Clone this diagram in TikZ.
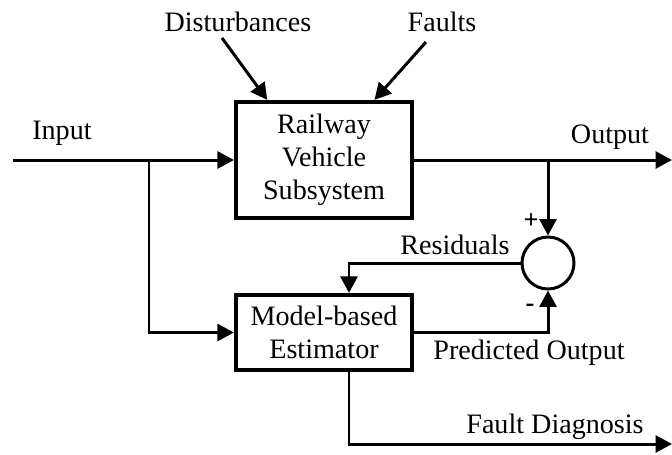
\documentclass[tikz,border=0pt]{standalone}
\usepackage{fontspec}
\setmainfont{Liberation Serif}
\usetikzlibrary{arrows.meta,calc,positioning}

\begin{document}
\begin{tikzpicture}[x=0.02cm,y=-0.02cm,
    every node/.style={font=\fontsize{16}{18.8}\selectfont},
    block/.style={draw,line width=2.4pt,align=center,inner sep=0pt,
                  minimum width=3.52cm},
    sig/.style={line width=1.7pt,-{Triangle[length=0.33cm,width=0.34cm]}},
    sign/.style={font=\fontsize{15}{15}\selectfont\bfseries}]
%
  \useasboundingbox (0,0) rectangle (672,454);
%
  \node [block,minimum height=2.32cm] (rvs) at (324,160)
        {Railway\\Vehicle\\Subsystem} ;
  \node [block,minimum height=1.5cm] (mbe) at (324,332.5)
        {Model-based\\Estimator} ;
  \node [draw,circle,line width=1.7pt,minimum size=1.04cm,inner sep=0pt]
        (sum) at (548,263) {} ;
%
  \node (dist) at (238,22)  {Disturbances} ;
  \node (flt)  at (442,22)  {Faults} ;
  \node (inp)  at (62,133)  {Input} ;
  \node (outp) at (610,137) {Output} ;
  \node (res)  at (455,245) {Residuals} ;
  \node (pred) at (529,353) {Predicted Output} ;
  \node (diag) at (555,427) {Fault Diagnosis} ;
  \node [sign] (plus)  at (531,221) {+} ;
  \node [sign] (minus) at (530,308) {-} ;
%
  \coordinate (dtail) at (222,38) ;
  \coordinate (ftail) at (426,42) ;
  \coordinate (in)    at (13,160) ;
  \coordinate (isplit) at (149,160) ;
  \coordinate (out)   at (672,160) ;
  \coordinate (osplit) at (548,160) ;
  \coordinate (fdout) at (672,444) ;
%
  \draw [sig] (dtail) -- ($(rvs.north west)!.185!(rvs.north east)$) ;
  \draw [sig] (ftail) -- ($(rvs.north west)!.78!(rvs.north east)$) ;
%
  \draw [sig] (in) -- (rvs.west) ;
  \draw [sig] (isplit) |- (mbe.west) ;
  \draw [sig] (rvs.east) -- (out) ;
  \draw [sig] (osplit) -- (sum.north) ;
%
  \draw [sig] (sum.west) -| ($(mbe.north)+(25,0)$) ;
  \draw [sig] (mbe.east) -| (sum.south) ;
  \draw [sig] ($(mbe.south)+(25,0)$) |- (fdout) ;
%
\end{tikzpicture}
\end{document}
